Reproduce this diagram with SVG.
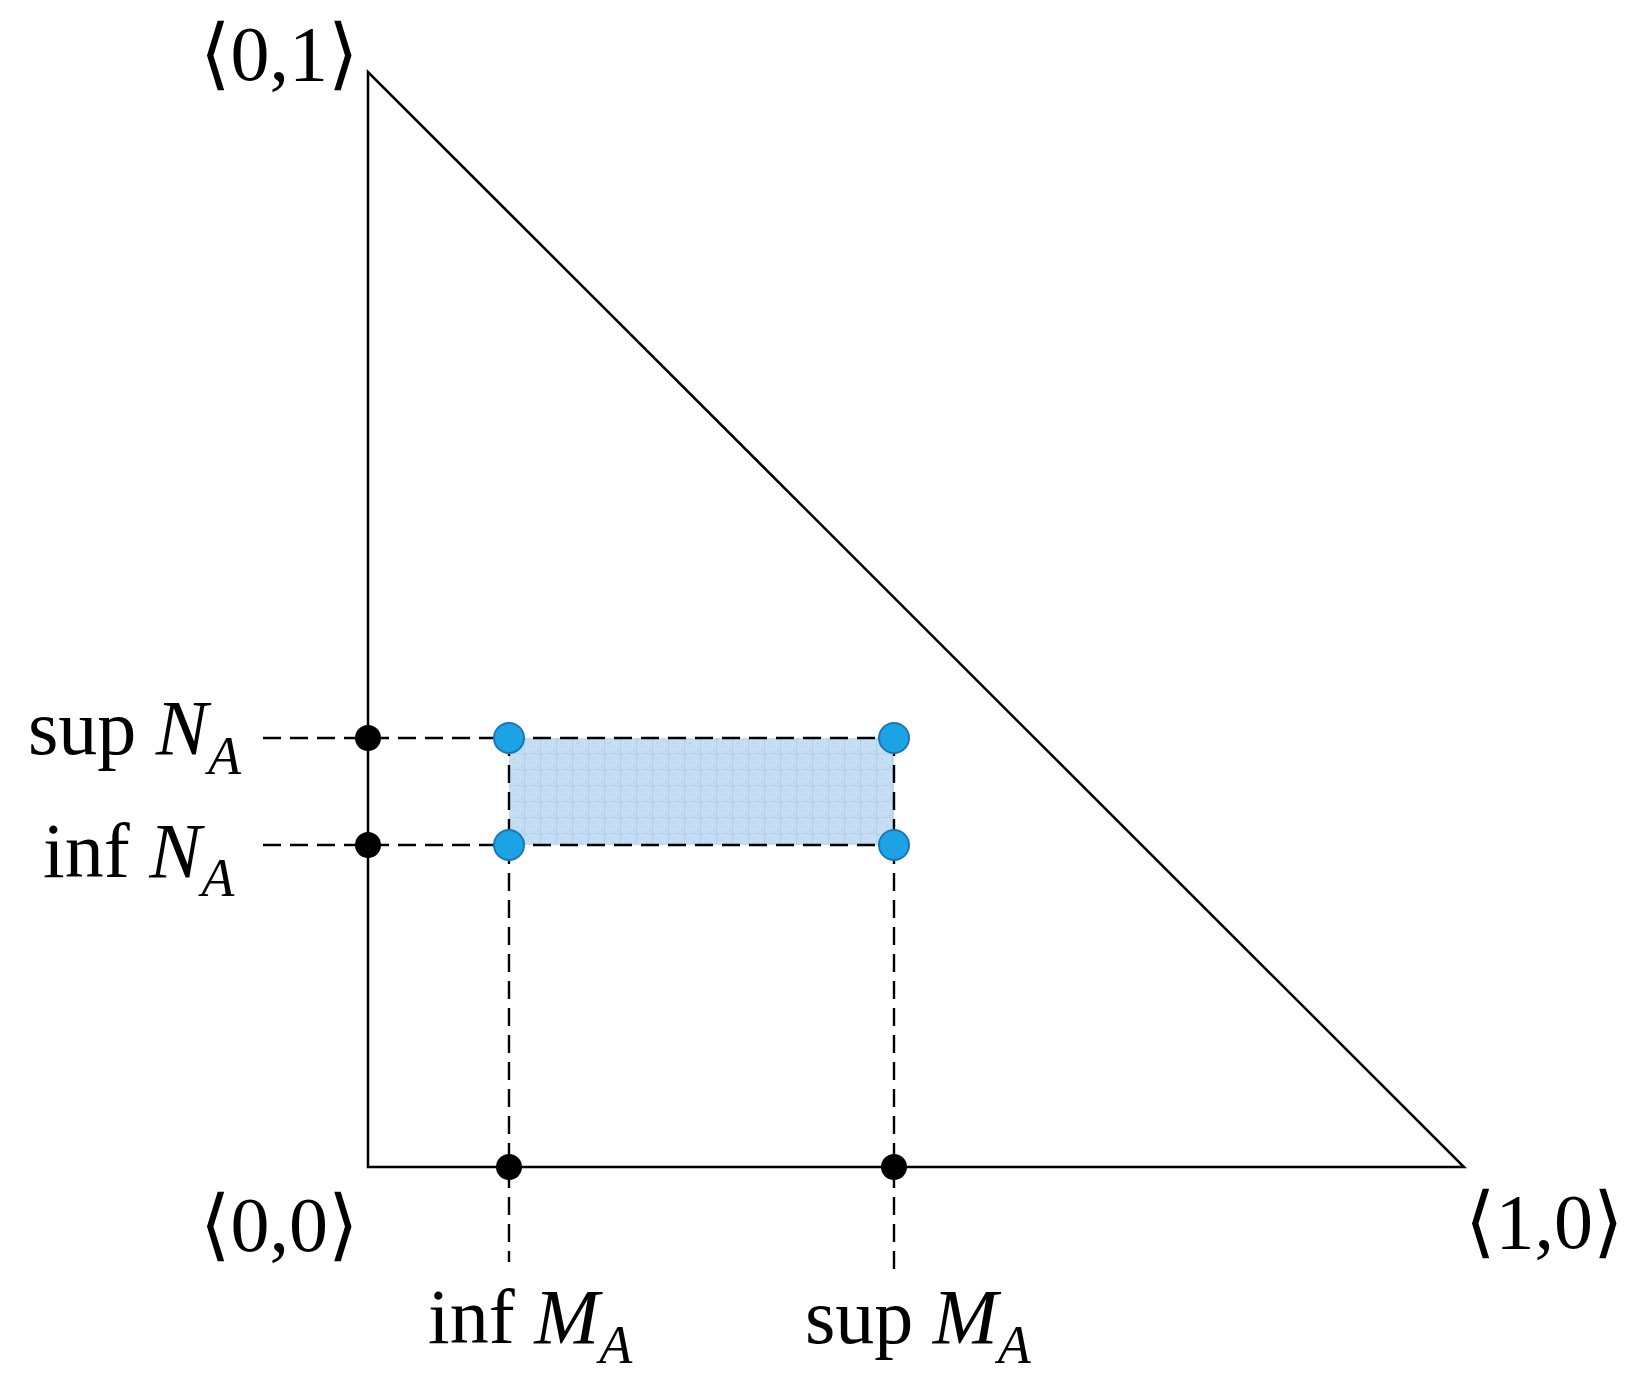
<svg xmlns="http://www.w3.org/2000/svg" width="1639" height="1388" viewBox="0 0 1639 1388">
<style>
.lbl{font-family:"Liberation Serif","Times New Roman","DejaVu Serif",serif;font-size:78px;fill:#000}
.it{font-style:italic}
.sub{font-size:54px;font-style:italic}
.axis{fill:none;stroke:#000;stroke-width:2.5}
.dash{fill:none;stroke:#000;stroke-width:2.4;stroke-dasharray:18 9}
.bdot{fill:#000}
.cdot{fill:#1ca3e6;stroke:#1a76b8;stroke-width:2}
</style>
<defs>
<pattern id="grid" patternUnits="userSpaceOnUse" x="509" y="738" width="16" height="16">
<rect width="16" height="16" fill="#c6def3"/>
<rect x="0" y="0" width="2" height="2" fill="#b6d3ef"/>
<rect x="4" y="4" width="2" height="2" fill="#b6d3ef"/>
<rect x="8" y="8" width="2" height="2" fill="#b6d3ef"/>
<rect x="12" y="12" width="2" height="2" fill="#b6d3ef"/>
<path d="M16 0V16M0 16H16" stroke="#a4c6ec" stroke-width="1.2"/>
</pattern>
</defs>
<rect width="1639" height="1388" fill="#fff"/>
<g id="region">
<rect x="509" y="738" width="385" height="107" fill="url(#grid)"/>
</g>
<g id="triangle">
<polygon class="axis" points="368,72 368,1167 1464,1167"/>
</g>
<g id="connectors">
<line class="dash" x1="263" y1="738" x2="894" y2="738"/>
<line class="dash" x1="263" y1="845" x2="894" y2="845"/>
<line class="dash" x1="509" y1="738" x2="509" y2="1262"/>
<line class="dash" x1="894" y1="738" x2="894" y2="1277"/>
</g>
<g id="points">
<circle class="bdot" cx="368" cy="738" r="13"/>
<circle class="bdot" cx="368" cy="845" r="13"/>
<circle class="bdot" cx="509" cy="1167" r="13"/>
<circle class="bdot" cx="894" cy="1167" r="13"/>
<circle class="cdot" cx="509" cy="738" r="15"/>
<circle class="cdot" cx="894" cy="738" r="15"/>
<circle class="cdot" cx="509" cy="845" r="15"/>
<circle class="cdot" cx="894" cy="845" r="15"/>
</g>
<g id="label-01"><text class="lbl" x="200" y="80">⟨0,1⟩</text></g>
<g id="label-00"><text class="lbl" x="200" y="1251">⟨0,0⟩</text></g>
<g id="label-10"><text class="lbl" x="1465" y="1248">⟨1,0⟩</text></g>
<g id="label-supN"><text class="lbl" x="28" y="754">sup <tspan class="it">N</tspan><tspan class="sub" dy="20">A</tspan></text></g>
<g id="label-infN"><text class="lbl" x="43" y="877">inf <tspan class="it">N</tspan><tspan class="sub" dy="19">A</tspan></text></g>
<g id="label-infM"><text class="lbl" x="428" y="1343">inf <tspan class="it">M</tspan><tspan class="sub" dy="20">A</tspan></text></g>
<g id="label-supM"><text class="lbl" x="805" y="1343">sup <tspan class="it">M</tspan><tspan class="sub" dy="20">A</tspan></text></g>
</svg>
